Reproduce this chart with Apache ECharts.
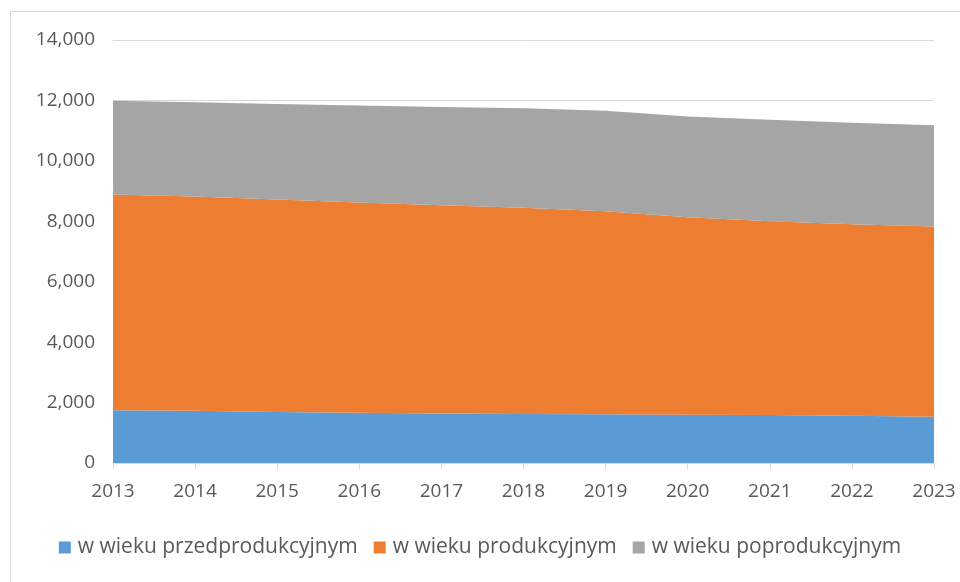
<!DOCTYPE html>
<html>
<head>
<meta charset="utf-8">
<script src="https://cdn.jsdelivr.net/npm/echarts@6/dist/echarts.min.js"></script>
<style>
  html, body { margin: 0; padding: 0; background: #fff; }
  #chart { width: 960px; height: 582px; }
  #frame {
    position: absolute; left: 10px; top: 11px; width: 960px; height: 600px;
    border-left: 1px solid #d9d9d9; border-top: 1px solid #d9d9d9;
    pointer-events: none;
  }
</style>
</head>
<body>
<div id="chart"></div>
<div id="frame"></div>
<script>
// years and age groups (population)
const years = ['2013', '2014', '2015', '2016', '2017', '2018', '2019', '2020', '2021', '2022', '2023'];
const przedprodukcyjny = [1750, 1730, 1690, 1660, 1640, 1620, 1610, 1600, 1590, 1560, 1530];
const produkcyjny = [7140, 7090, 7030, 6960, 6890, 6830, 6720, 6530, 6410, 6340, 6300];
const poprodukcyjny = [3100, 3120, 3160, 3210, 3250, 3290, 3330, 3340, 3360, 3360, 3350];

const names = ['w wieku przedprodukcyjnym', 'w wieku produkcyjnym', 'w wieku poprodukcyjnym'];
const colors = ['#5b9bd5', '#ed7d31', '#a5a5a5'];
const fontFamily = 'Open Sans, Liberation Sans, sans-serif';

function areaSeries(name, data) {
  return {
    name: name,
    type: 'line',
    stack: 'total',
    data: data,
    symbol: 'none',
    lineStyle: { width: 0 },
    areaStyle: { opacity: 1 },
  };
}

const chart = echarts.init(document.getElementById('chart'), null, { renderer: 'canvas' });
chart.setOption({
  animation: false,
  color: colors,
  grid: { left: 113, right: 26, top: 40, bottom: 119 },
  legend: {
    bottom: 19,
    left: 'center',
    icon: 'rect',
    itemWidth: 12,
    itemHeight: 12,
    itemGap: 16,
    textStyle: { color: '#595959', fontSize: 21, fontFamily: fontFamily, padding: [0, 0, 0, 2] },
    data: names,
  },
  xAxis: {
    type: 'category',
    data: years,
    boundaryGap: false,
    axisLine: { lineStyle: { color: '#d9d9d9' } },
    axisTick: { show: true, alignWithLabel: true, length: 6, lineStyle: { color: '#d9d9d9' } },
    axisLabel: { color: '#595959', fontSize: 19, fontFamily: fontFamily, margin: 19 },
    splitLine: { show: false },
  },
  yAxis: {
    type: 'value',
    min: 0,
    max: 14000,
    interval: 2000,
    axisLine: { show: false },
    axisTick: { show: false },
    axisLabel: {
      color: '#595959', fontSize: 19, fontFamily: fontFamily, margin: 18,
      formatter: v => v.toLocaleString('en-US'),
    },
    splitLine: { lineStyle: { color: '#d9d9d9' } },
  },
  series: [
    areaSeries(names[0], przedprodukcyjny),
    areaSeries(names[1], produkcyjny),
    areaSeries(names[2], poprodukcyjny),
  ],
});
</script>
</body>
</html>
